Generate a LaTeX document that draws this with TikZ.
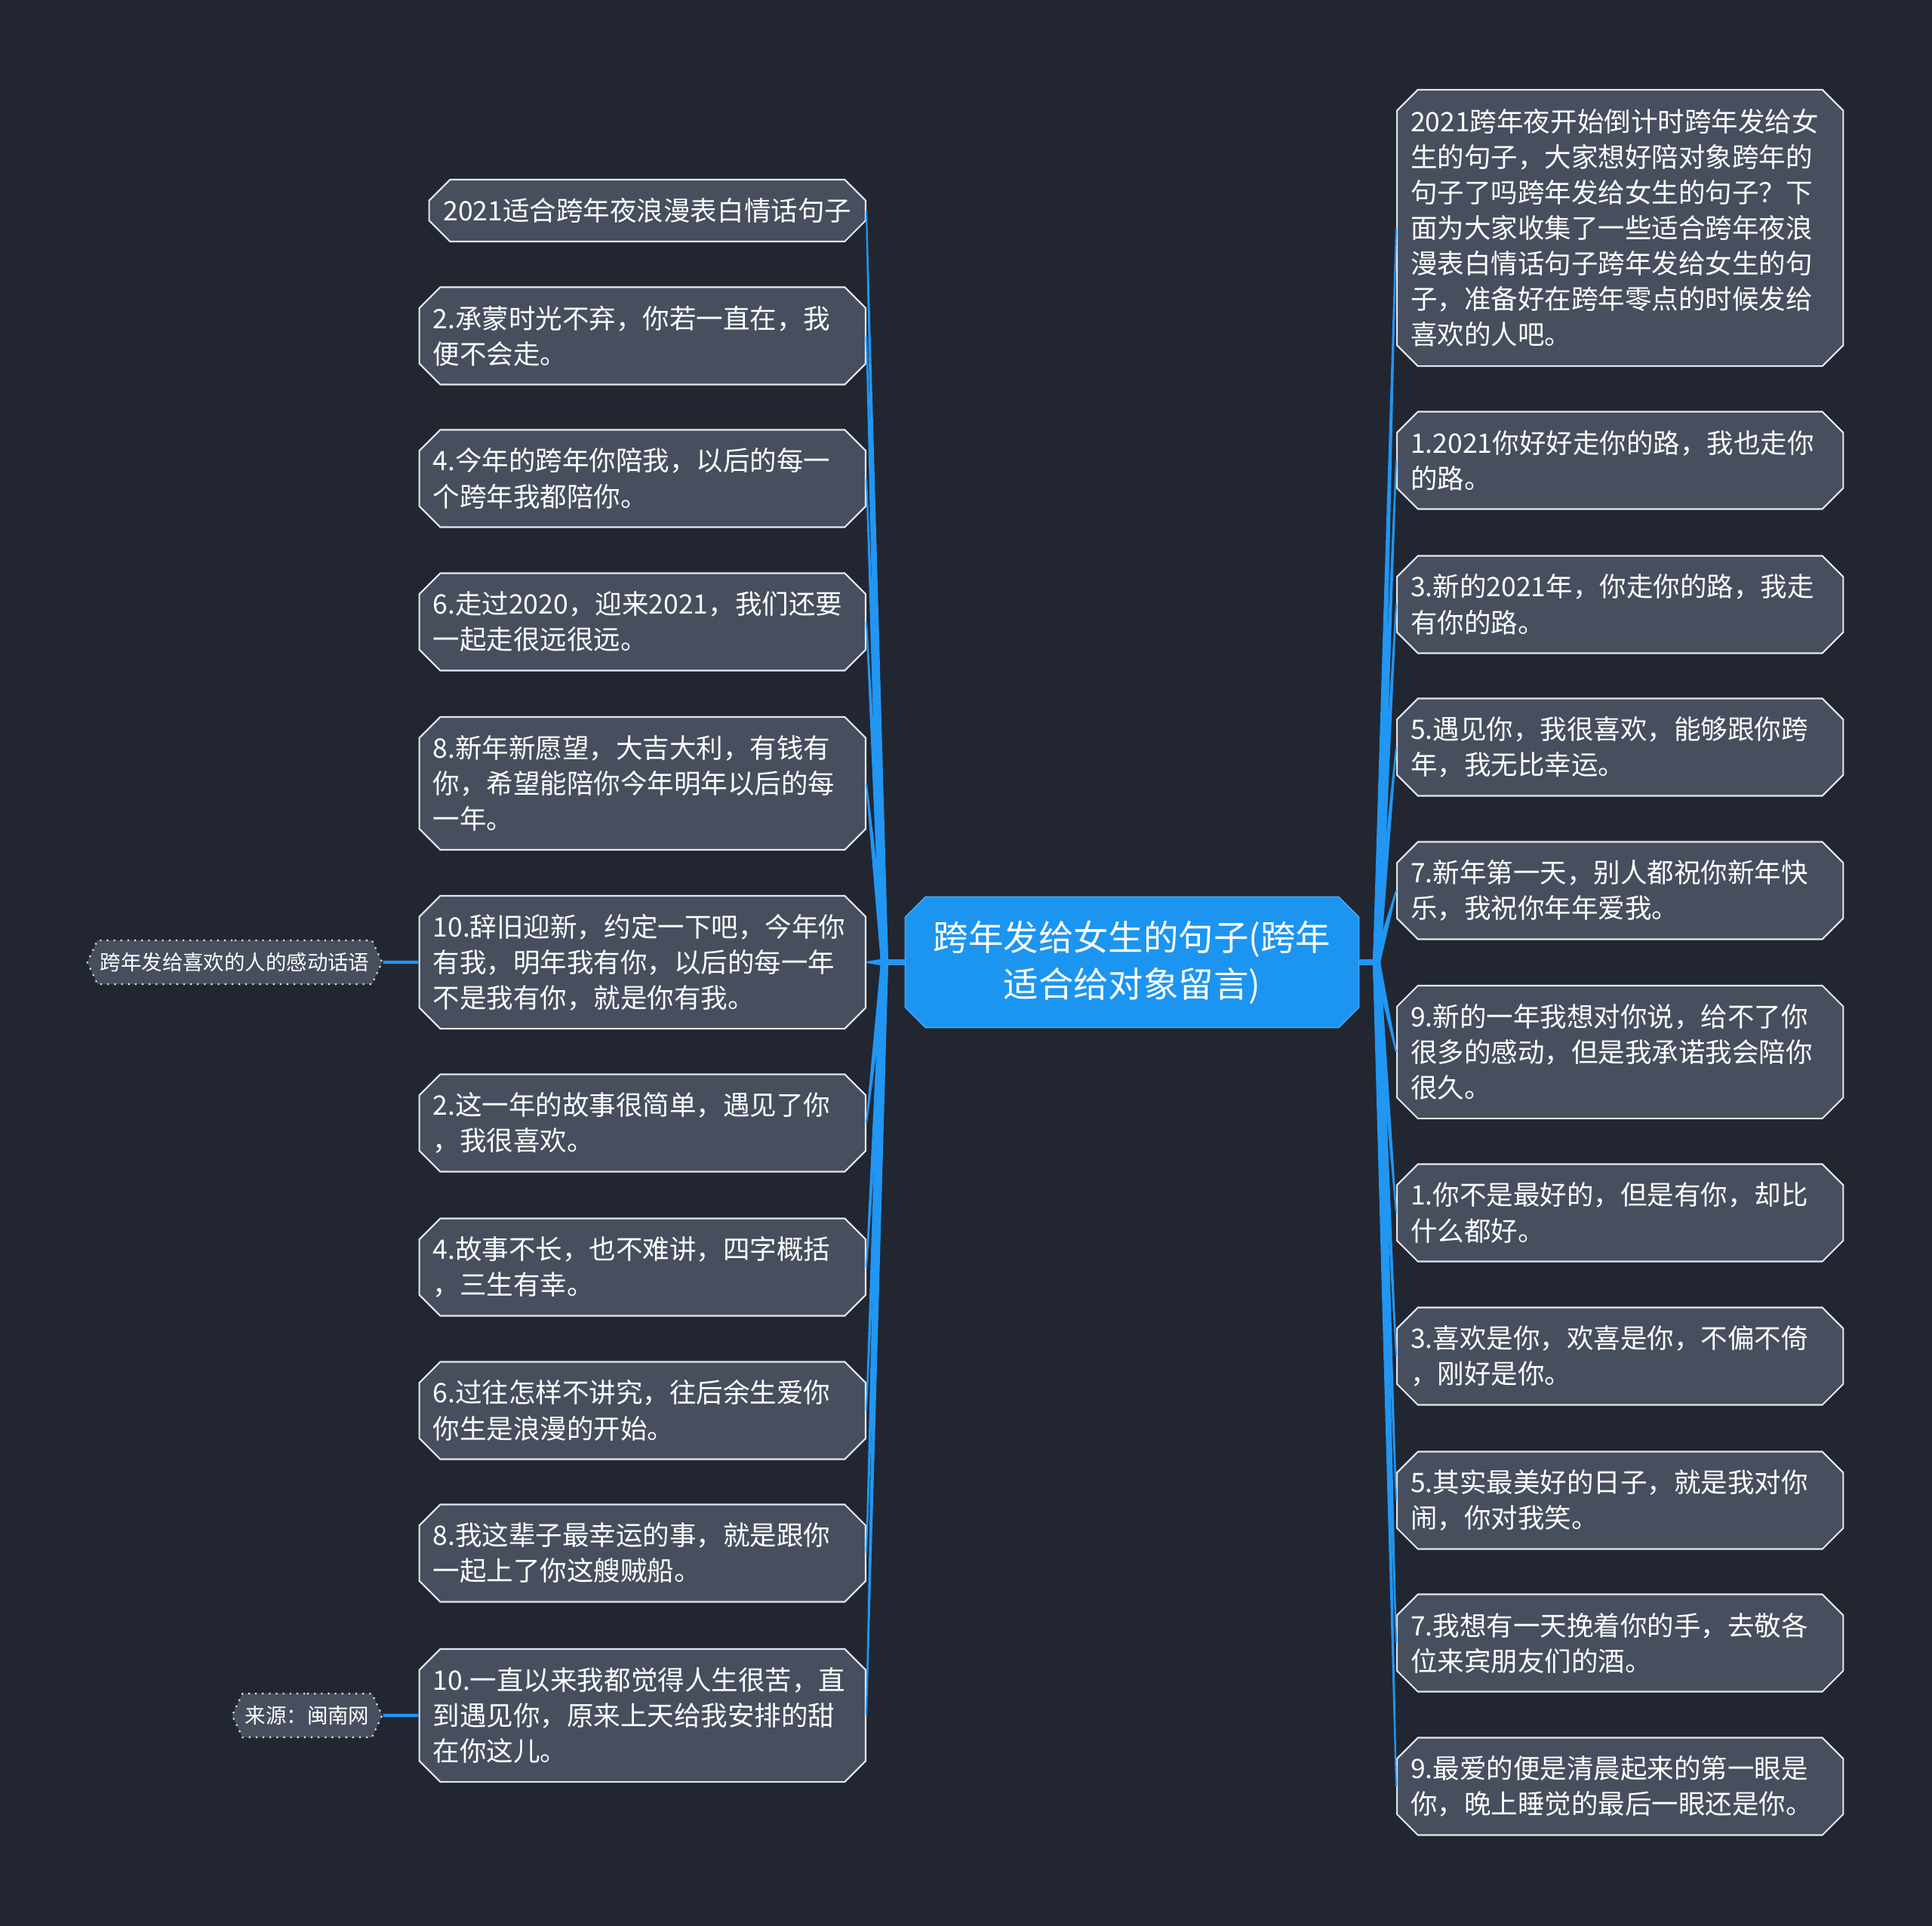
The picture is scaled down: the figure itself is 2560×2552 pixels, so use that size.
\documentclass[tikz,border=0pt]{standalone}
\usepackage{fontspec}
\setmainfont{Noto Sans CJK SC}
\usepackage{xcolor}
\usetikzlibrary{positioning,calc,shapes.misc,shapes.symbols}

\definecolor{bgnavy}{HTML}{222631}
\definecolor{leaffill}{HTML}{474E5E}
\definecolor{leafline}{HTML}{E4E8EE}
\definecolor{rootblue}{HTML}{1C95F0}
\definecolor{linkblue}{HTML}{2196F3}

\begin{document}
\begin{tikzpicture}[
        x=0.01cm, y=-0.01cm,
        leaf/.style={chamfered rectangle, chamfered rectangle xsep=0.15cm,
                     draw=leafline, line width=0.6pt, fill=leaffill, text=white,
                     font=\fontsize{10.1pt}{13.4pt}\selectfont,
                     inner xsep=0.03cm, inner ysep=0pt, minimum width=5.91cm},
        wide/.style={text width=5.55cm, align=left},
        lines1/.style={minimum height=0.82cm},
        lines2/.style={minimum height=1.29cm},
        lines3/.style={minimum height=1.76cm},
        lines7/.style={minimum height=3.66cm},
        tag/.style={signal, signal to=west and east, signal pointer angle=130,
                    draw=leafline, dotted, line width=0.6pt, fill=leaffill, text=white,
                    font=\fontsize{7.8pt}{9pt}\selectfont, inner xsep=1pt,
                    minimum height=0.58cm},
        root/.style={chamfered rectangle, chamfered rectangle xsep=0.14cm,
                     fill=rootblue, draw=rootblue!80!white, text=white, align=center,
                     font=\fontsize{13.2pt}{17.6pt}\selectfont,
                     minimum width=6.01cm, minimum height=1.73cm},
        tie/.style={linkblue, line width=1.2pt},
    ]
    \fill[bgnavy] (0,0) rectangle (2560,2552);

    \node[root] (root) at (1500,1275) {跨年发给女生的句子(跨年\\适合给对象留言)};
    \coordinate (lhub) at (1172,1275);
    \coordinate (rhub) at (1824,1275);

    % left column
    \node[leaf, lines1, minimum width=5.78cm, anchor=east] (l1) at (1148,279) {2021适合跨年夜浪漫表白情话句子};
    \node[leaf, wide, lines2, anchor=east] (l2) at (1148,445) {2.承蒙时光不弃，你若一直在，我\\便不会走。};
    \node[leaf, wide, lines2, anchor=east] (l3) at (1148,634) {4.今年的跨年你陪我，以后的每一\\个跨年我都陪你。};
    \node[leaf, wide, lines2, anchor=east] (l4) at (1148,824) {6.走过2020，迎来2021，我们还要\\一起走很远很远。};
    \node[leaf, wide, lines3, anchor=east] (l5) at (1148,1038) {8.新年新愿望，大吉大利，有钱有\\你，希望能陪你今年明年以后的每\\一年。};
    \node[leaf, wide, lines3, anchor=east] (l6) at (1148,1275) {10.辞旧迎新，约定一下吧，今年你\\有我，明年我有你，以后的每一年\\不是我有你，就是你有我。};
    \node[leaf, wide, lines2, anchor=east] (l7) at (1148,1488) {2.这一年的故事很简单，遇见了你\\，我很喜欢。};
    \node[leaf, wide, lines2, anchor=east] (l8) at (1148,1679) {4.故事不长，也不难讲，四字概括\\，三生有幸。};
    \node[leaf, wide, lines2, anchor=east] (l9) at (1148,1869) {6.过往怎样不讲究，往后余生爱你\\你生是浪漫的开始。};
    \node[leaf, wide, lines2, anchor=east] (l10) at (1148,2058) {8.我这辈子最幸运的事，就是跟你\\一起上了你这艘贼船。};
    \node[leaf, wide, lines3, anchor=east] (l11) at (1148,2273) {10.一直以来我都觉得人生很苦，直\\到遇见你，原来上天给我安排的甜\\在你这儿。};

    \node[tag, left=0.47cm of l6] (tag1) {跨年发给喜欢的人的感动话语};
    \node[tag, left=0.47cm of l11] (tag2) {来源：闽南网};

    % right column
    \node[leaf, wide, lines7, anchor=west] (r1) at (1850,302) {2021跨年夜开始倒计时跨年发给女\\生的句子，大家想好陪对象跨年的\\句子了吗跨年发给女生的句子？下\\面为大家收集了一些适合跨年夜浪\\漫表白情话句子跨年发给女生的句\\子，准备好在跨年零点的时候发给\\喜欢的人吧。};
    \node[leaf, wide, lines2, anchor=west] (r2) at (1850,610) {1.2021你好好走你的路，我也走你\\的路。};
    \node[leaf, wide, lines2, anchor=west] (r3) at (1850,801) {3.新的2021年，你走你的路，我走\\有你的路。};
    \node[leaf, wide, lines2, anchor=west] (r4) at (1850,990) {5.遇见你，我很喜欢，能够跟你跨\\年，我无比幸运。};
    \node[leaf, wide, lines2, anchor=west] (r5) at (1850,1180) {7.新年第一天，别人都祝你新年快\\乐，我祝你年年爱我。};
    \node[leaf, wide, lines3, anchor=west] (r6) at (1850,1394) {9.新的一年我想对你说，给不了你\\很多的感动，但是我承诺我会陪你\\很久。};
    \node[leaf, wide, lines2, anchor=west] (r7) at (1850,1607) {1.你不是最好的，但是有你，却比\\什么都好。};
    \node[leaf, wide, lines2, anchor=west] (r8) at (1850,1797) {3.喜欢是你，欢喜是你，不偏不倚\\，刚好是你。};
    \node[leaf, wide, lines2, anchor=west] (r9) at (1850,1988) {5.其实最美好的日子，就是我对你\\闹，你对我笑。};
    \node[leaf, wide, lines2, anchor=west] (r10) at (1850,2177) {7.我想有一天挽着你的手，去敬各\\位来宾朋友们的酒。};
    \node[leaf, wide, lines2, anchor=west] (r11) at (1850,2367) {9.最爱的便是清晨起来的第一眼是\\你，晚上睡觉的最后一眼还是你。};

    % tapered branches
    \draw[linkblue, line width=2pt] (root.west) -- (lhub);
    \draw[linkblue, line width=2pt] (root.east) -- (rhub);
    \foreach \n in {l1,l2,l3,l4,l5,l6,l7,l8,l9,l10,l11}
        \fill[linkblue] ($(lhub)!0.05cm!90:(\n.east)$) -- ($(\n.east)!0.01cm!-90:(lhub)$)
            -- ($(\n.east)!0.01cm!90:(lhub)$) -- ($(lhub)!0.05cm!-90:(\n.east)$) -- cycle;
    \foreach \n in {r1,r2,r3,r4,r5,r6,r7,r8,r9,r10,r11}
        \fill[linkblue] ($(rhub)!0.05cm!90:(\n.west)$) -- ($(\n.west)!0.01cm!-90:(rhub)$)
            -- ($(\n.west)!0.01cm!90:(rhub)$) -- ($(rhub)!0.05cm!-90:(\n.west)$) -- cycle;

    \draw[tie] (tag1) -- (l6);
    \draw[tie] (tag2) -- (l11);
\end{tikzpicture}
\end{document}
